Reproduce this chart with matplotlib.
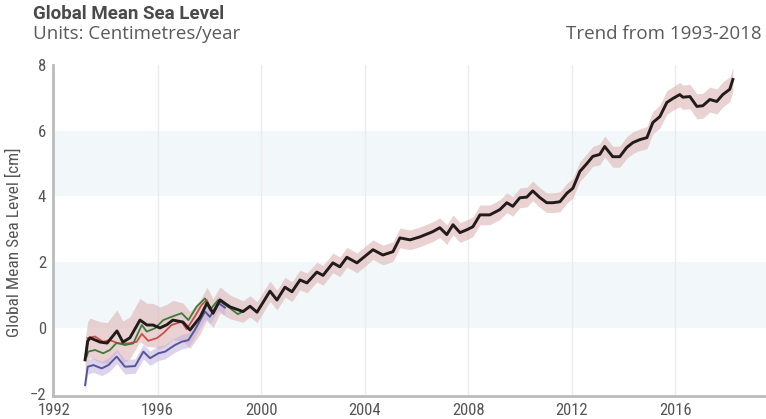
import numpy as np
import matplotlib
matplotlib.use("Agg")
import matplotlib.pyplot as plt
from matplotlib import font_manager

# ---------------- data ----------------
black_years = [1993.20, 1993.30, 1993.39, 1993.78, 1994.05, 1994.43, 1994.66, 1994.93, 1995.32,
               1995.59, 1995.82, 1996.09, 1996.36, 1996.59, 1996.98, 1997.25, 1997.64, 1997.91,
               1998.14, 1998.41, 1998.80, 1999.30, 1999.57, 1999.84, 2000.34, 2000.61, 2000.92,
               2001.19, 2001.50, 2001.77, 2002.15, 2002.39, 2002.77, 2003.04, 2003.31, 2003.70,
               2003.93, 2004.32, 2004.70, 2005.09, 2005.36, 2005.75, 2006.13, 2006.63, 2006.90,
               2007.17, 2007.41, 2007.68, 2007.95, 2008.18, 2008.45, 2008.83, 2009.22, 2009.49,
               2009.72, 2009.99, 2010.26, 2010.49, 2010.76, 2011.03, 2011.27, 2011.54, 2011.81,
               2012.04, 2012.31, 2012.58, 2012.81, 2013.08, 2013.27, 2013.58, 2013.85, 2014.12,
               2014.36, 2014.63, 2014.90, 2015.13, 2015.40, 2015.67, 2015.90, 2016.17, 2016.29,
               2016.56, 2016.83, 2017.06, 2017.33, 2017.60, 2017.83, 2018.10, 2018.22]
black_vals = [-0.97, -0.40, -0.30, -0.43, -0.46, -0.09, -0.43, -0.30, 0.24,
              0.09, 0.09, 0.00, 0.10, 0.24, 0.18, -0.06, 0.33, 0.76,
              0.45, 0.85, 0.64, 0.50, 0.66, 0.48, 1.12, 0.85, 1.24,
              1.10, 1.46, 1.37, 1.70, 1.60, 1.98, 1.86, 2.15, 1.98,
              2.13, 2.38, 2.22, 2.32, 2.74, 2.68, 2.77, 2.93, 3.05,
              2.84, 3.14, 2.90, 2.99, 3.08, 3.44, 3.44, 3.60, 3.81,
              3.70, 3.96, 3.98, 4.17, 3.97, 3.81, 3.81, 3.84, 4.10,
              4.25, 4.76, 5.00, 5.22, 5.28, 5.52, 5.21, 5.21, 5.49,
              5.64, 5.73, 5.79, 6.25, 6.43, 6.86, 6.98, 7.10, 7.02,
              7.04, 6.74, 6.76, 6.95, 6.89, 7.10, 7.26, 7.56]
black_unc = [0.60, 0.60, 0.60, 0.62, 0.62, 0.64, 0.64, 0.64, 0.66,
             0.66, 0.66, 0.64, 0.62, 0.60, 0.58, 0.56, 0.52, 0.48,
             0.44, 0.40, 0.36, 0.33, 0.32, 0.32, 0.31, 0.30, 0.30,
             0.30, 0.30, 0.30, 0.30, 0.30, 0.30, 0.30, 0.30, 0.30,
             0.30, 0.30, 0.30, 0.30, 0.30, 0.30, 0.30, 0.30, 0.30,
             0.30, 0.30, 0.30, 0.30, 0.30, 0.30, 0.30, 0.30, 0.30,
             0.30, 0.30, 0.30, 0.30, 0.30, 0.30, 0.30, 0.30, 0.30,
             0.30, 0.30, 0.30, 0.30, 0.32, 0.32, 0.32, 0.32, 0.33,
             0.33, 0.33, 0.34, 0.34, 0.35, 0.36, 0.36, 0.37, 0.37,
             0.37, 0.38, 0.38, 0.38, 0.38, 0.38, 0.38, 0.36]

red_years = [1993.29, 1993.58, 1993.90, 1994.16, 1994.48, 1994.87, 1995.19, 1995.39, 1995.64,
             1995.97, 1996.22, 1996.54, 1996.93, 1997.12, 1997.44, 1997.70, 1997.90, 1998.14,
             1998.41, 1998.80]
red_vals = [-0.31, -0.26, -0.42, -0.37, -0.47, -0.47, -0.42, -0.18, -0.39,
            -0.31, -0.16, 0.09, 0.19, -0.04, 0.35, 0.70, 0.85, 0.42,
            0.82, 0.62]

green_years = [1993.26, 1993.32, 1993.58, 1993.90, 1994.16, 1994.42, 1994.74, 1995.06, 1995.39,
               1995.58, 1995.90, 1996.22, 1996.54, 1996.93, 1997.19, 1997.51, 1997.83, 1998.02,
               1998.34, 1998.80, 1999.10, 1999.30]
green_vals = [-0.87, -0.72, -0.67, -0.77, -0.67, -0.45, -0.52, -0.47, 0.09,
              -0.11, -0.01, 0.24, 0.34, 0.45, 0.24, 0.65, 0.90, 0.55,
              0.85, 0.60, 0.42, 0.50]

blue_years = [1993.20, 1993.30, 1993.52, 1993.84, 1994.10, 1994.42, 1994.74, 1995.13, 1995.45,
              1995.71, 1996.03, 1996.29, 1996.67, 1996.93, 1997.19, 1997.44, 1997.83, 1998.02,
              1998.34, 1998.60]
blue_vals = [-1.74, -1.18, -1.13, -1.23, -1.13, -0.87, -1.18, -1.16, -0.72,
             -0.92, -0.77, -0.72, -0.52, -0.42, -0.37, -0.06, 0.50, 0.34,
             0.76, 0.62]
blue_unc = 0.22

x_ticks = [1992, 1996, 2000, 2004, 2008, 2012, 2016]
y_ticks = [-2, 0, 2, 4, 6, 8]
band_ranges = [(0, 2), (4, 6)]

# ---------------- fonts ----------------
available = {f.name for f in font_manager.fontManager.ttflist}
def pick(names):
    return [f for f in names if f in available] + ["DejaVu Sans"]
cond = pick(["Roboto Condensed", "Liberation Sans Narrow", "Roboto"])
wide = pick(["Roboto", "Open Sans"])
sub = pick(["Open Sans", "Roboto"])
plt.rcParams['font.family'] = cond

# ---------------- figure ----------------
fig = plt.figure(figsize=(7.66, 4.19), dpi=100)
ax = fig.add_axes([53 / 766, 1 - 396 / 419, 713 / 766, (396 - 65) / 419])
ax.set_xlim(1991.96, 2019.5)
ax.set_ylim(-2.07, 8.0)

for lo, hi in band_ranges:
    ax.axhspan(lo, hi, color="#f2f7fa", zorder=0, lw=0)
for xt in x_ticks[1:]:
    ax.axvline(xt, color="#e8ecef", lw=1.0, zorder=0.5)

by = np.array(black_years)
bv = np.array(black_vals)
bu = np.array(black_unc)
ax.fill_between(by, bv - bu, bv + bu, color="#dcaeae", alpha=0.55, lw=0, zorder=1)
bly = np.array(blue_years)
blv = np.array(blue_vals)
ax.fill_between(bly, blv - blue_unc, blv + blue_unc, color="#c2b0de", alpha=0.55, lw=0, zorder=1)

ax.plot(blue_years, blue_vals, color="#55559a", lw=1.4, zorder=2, solid_joinstyle="round")
ax.plot(red_years, red_vals, color="#c8504a", lw=1.3, zorder=2, solid_joinstyle="round")
ax.plot(green_years, green_vals, color="#3f7a38", lw=1.3, zorder=2, solid_joinstyle="round")
ax.plot(black_years, black_vals, color="#231a1a", lw=2.1, zorder=3, solid_joinstyle="round")

ax.set_xticks(x_ticks)
ax.set_yticks(y_ticks)
ax.tick_params(length=0, labelsize=12, colors="#555555", pad=5)
for s in ["top", "right"]:
    ax.spines[s].set_visible(False)
for s in ["left", "bottom"]:
    ax.spines[s].set_color("#bbbbbb")
    ax.spines[s].set_linewidth(2.0)
ax.set_ylabel("Global Mean Sea Level [cm]", fontsize=12.5, color="#555555")
ax.yaxis.set_label_coords((22 - 53) / 713, 0.465)

fig.text(33 / 766, 1 - 14 / 419, "Global Mean Sea Level", fontsize=13.5, fontweight="bold",
         color="#4a4a4a", va="center", ha="left", family=wide)
fig.text(33 / 766, 1 - 34 / 419, "Units: Centimetres/year", fontsize=13.5, color="#5a5a5a",
         va="center", ha="left", family=sub)
fig.text(762 / 766, 1 - 34 / 419, "Trend from 1993-2018", fontsize=13.5, color="#5a5a5a",
         va="center", ha="right", family=sub)

fig.savefig("out.png", dpi=100)
